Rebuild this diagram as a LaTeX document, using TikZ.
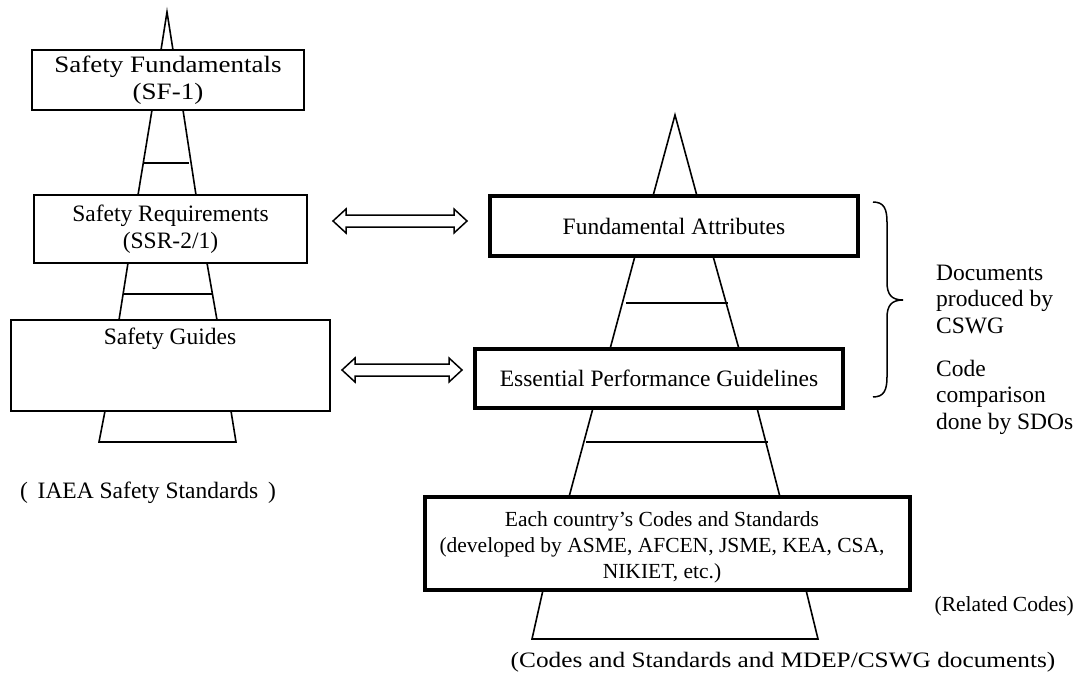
\documentclass[tikz,border=0pt]{standalone}
\usepackage{fontspec}
\setmainfont{Liberation Serif}
\newfontfamily\widefont[FakeStretch=1.15]{Liberation Serif}
\usetikzlibrary{calc}
\begin{document}
\begin{tikzpicture}[x=1pt,y=-1pt,
  every node/.style={font=\fontsize{23.5}{26.5}\selectfont},
  lbox/.style={draw, line width=1.6pt, fill=white, inner sep=0pt, align=center},
  rbox/.style={draw, line width=4pt, fill=white, inner sep=0pt, align=center},
  pline/.style={line width=1.6pt},
  rung/.style={line width=1.6pt},
  thickrung/.style={line width=2.6pt},
  dblarr/.style={line width=1.5pt, fill=white, line join=miter},
  txt/.style={inner sep=0pt}]
\useasboundingbox (0,0) rectangle (1077,682);

% ---------- left pyramid ----------
\coordinate (apexL) at (167,12);
\draw[pline] (161,50) -- (apexL) -- (173,50);
\draw[pline] (152,110) -- (138,195);
\draw[pline] (183,110) -- (196,195);
\draw[rung] (144,163) -- (189,163);
\draw[pline] (128,263) -- (119,320);
\draw[pline] (207,263) -- (217,320);
\draw[thickrung] (123,294) -- (212,294);
\draw[pline] (105,411) -- (99,442) -- (236,442) -- (231,411);

\node[lbox, minimum width=272pt, minimum height=60pt] (sf) at (168,80)
  {\widefont Safety Fundamentals\\\widefont(SF-1)};
\node[lbox, minimum width=273pt, minimum height=68pt] (ssr) at (170.5,229)
  {Safety Requirements\\(SSR-2/1)};
\node[lbox, minimum width=319pt, minimum height=91pt] (sg) at (170.5,365.5) {};
\node[txt] (sgt) at (170,339) {Safety Guides};
\node[txt] (iaea) at (148,493) {(\, IAEA Safety Standards\, )};

% ---------- right pyramid ----------
\coordinate (apexR) at (675,115);
\draw[pline] (653,196) -- (apexR) -- (697,196);
\draw[pline] (635,256) -- (610,349);
\draw[pline] (713,256) -- (739,349);
\draw[rung] (626,303) -- (728,303);
\draw[pline] (593,408) -- (569,497);
\draw[pline] (757,408) -- (780,497);
\draw[rung] (586,442) -- (768,442);
\draw[pline] (543,590) -- (532,639) -- (818,639) -- (806,590);

\node[rbox, minimum width=368pt, minimum height=60pt] (fa) at (674,226)
  {Fundamental Attributes};
\node[rbox, minimum width=368pt, minimum height=59pt] (epg) at (659,378.5)
  {Essential Performance Guidelines};
\node[rbox, minimum width=485pt, minimum height=93pt] (cs) at (667.5,543.5) {};
\node[txt, align=center, font=\fontsize{21.5}{26}\selectfont] (cst) at (662,547)
  {Each country's Codes and Standards\\(developed by ASME, AFCEN, JSME, KEA, CSA,\\NIKIET, etc.)};

% ---------- double arrows ----------
\coordinate (a1l) at (333,221);
\coordinate (a1r) at (467,221);
\draw[dblarr] (a1l) -- ++(13,-12) -- ++(0,6) -- ($(a1r)+(-13,-6)$) -- ++(0,-6) -- (a1r)
  -- ++(-13,12) -- ++(0,-6) -- ($(a1l)+(13,6)$) -- ++(0,6) -- cycle;
\coordinate (a2l) at (342,370);
\coordinate (a2r) at (462,370);
\draw[dblarr] (a2l) -- ++(13,-12) -- ++(0,6) -- ($(a2r)+(-13,-6)$) -- ++(0,-6) -- (a2r)
  -- ++(-13,12) -- ++(0,-6) -- ($(a2l)+(13,6)$) -- ++(0,6) -- cycle;

% ---------- brace and side texts ----------
\coordinate (bt) at (873,202);
\coordinate (bb) at (873,397);
\coordinate (btip) at (903,300);
\draw[line width=1.5pt] (bt) .. controls (884,202) and (887,209) .. (887,222) -- (887,282)
  .. controls (887,294) and (891,300) .. (btip)
  .. controls (891,300) and (887,306) .. (887,318) -- (887,377)
  .. controls (887,390) and (884,397) .. (bb);

\node[txt, anchor=west, align=left] (docs) at (936,299) {Documents\\produced by\\CSWG};
\node[txt, anchor=west, align=left] (cmp) at (936,397) {Code\\comparison\\done by SDOs};
\node[txt, anchor=east, font=\fontsize{21.5}{26}\selectfont] (rel) at (1074,606) {(Related Codes)};
\node[txt, font=\widefont\fontsize{22}{26}\selectfont] (cap) at (783,662) {(Codes and Standards and MDEP/CSWG documents)};
\end{tikzpicture}
\end{document}
